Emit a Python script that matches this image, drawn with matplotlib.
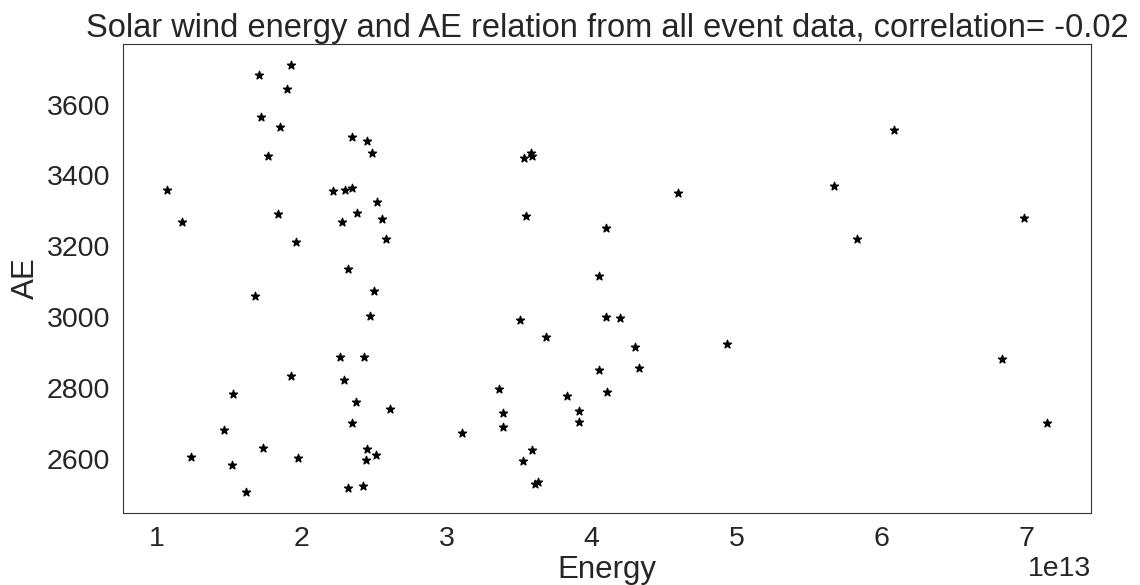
import numpy as np
import matplotlib
matplotlib.use('Agg')
import matplotlib.pyplot as plt
import seaborn as sns

# energy (x 1e13) and AE values
energy = [1.925, 1.700, 1.900, 1.716, 1.849, 2.345, 2.452, 2.485, 1.769, 1.069,
          2.215, 2.300, 2.345, 2.517, 2.379, 2.554, 1.171, 1.838, 2.276, 2.581,
          1.962, 2.317, 2.494, 1.677, 2.469, 2.264, 2.430, 1.925, 2.287, 1.523,
          2.372, 2.609, 1.461, 2.345, 1.734, 2.452, 2.512, 2.445, 1.233, 1.516,
          1.974, 1.613, 2.317, 2.421, 3.535, 3.583, 3.585, 3.546, 4.101, 4.048,
          4.101, 4.198, 3.507, 3.684, 4.301, 4.048, 4.327, 3.362, 4.108, 3.831,
          3.914, 3.385, 3.914, 3.385, 3.104, 3.585, 3.526, 3.610, 3.631, 6.090,
          5.673, 4.596, 6.983, 5.834, 4.936, 6.831, 7.144]
ae = [3711, 3683, 3644, 3565, 3536, 3509, 3497, 3464, 3456, 3359,
      3356, 3359, 3365, 3326, 3295, 3277, 3270, 3292, 3268, 3222,
      3213, 3136, 3074, 3061, 3004, 2887, 2887, 2834, 2823, 2783,
      2761, 2741, 2682, 2702, 2630, 2629, 2612, 2598, 2606, 2583,
      2603, 2508, 2519, 2523, 3449, 3464, 3454, 3287, 3253, 3116,
      3001, 2999, 2993, 2945, 2916, 2852, 2856, 2799, 2790, 2777,
      2737, 2730, 2706, 2691, 2675, 2627, 2596, 2529, 2535, 3528,
      3369, 3351, 3279, 3220, 2924, 2881, 2701]

x = np.array(energy) * 1e13
y = np.array(ae)

sns.set_style('white')
plt.rcParams['font.family'] = ['Liberation Sans', 'DejaVu Sans']

fig = plt.figure(figsize=(11.4, 5.85), dpi=100)
ax = fig.add_axes([0.108, 0.123, 0.849, 0.802])

ax.scatter(x, y, marker='*', color='k', s=36)

ax.set_title('Solar wind energy and AE relation from all event data, correlation= -0.02',
             fontsize=23.5, pad=5)
ax.set_xlabel('Energy', fontsize=22.5, labelpad=2)
ax.set_ylabel('AE', fontsize=22.5, labelpad=4)
ax.tick_params(labelsize=20.5, pad=6)
ax.xaxis.get_offset_text().set_fontsize(20.5)
for s in ax.spines.values():
    s.set_color('.2')

fig.savefig('out.png', dpi=100)
